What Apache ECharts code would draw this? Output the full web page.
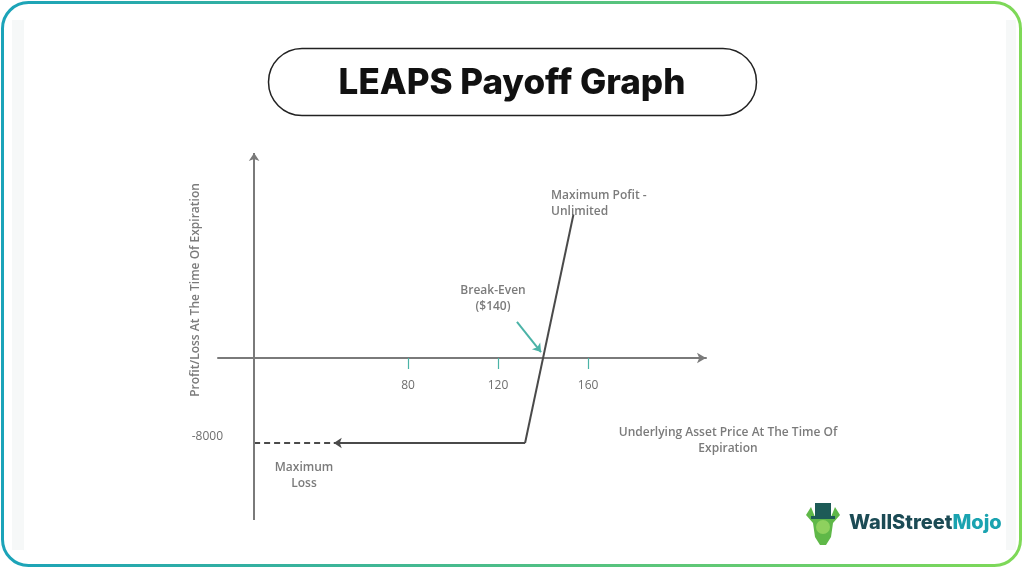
<!DOCTYPE html>
<html><head><meta charset="utf-8">
<script src="https://cdn.jsdelivr.net/npm/echarts@6/dist/echarts.min.js"></script>
<style>html,body{margin:0;padding:0;background:#fff}#c{width:1024px;height:569px}</style>
</head><body><div id="c"></div>
<script>
// ---- data ----
const xTickValues = [80, 120, 160];
const yTickValues = [-8000];
const yAxisAtX = 11.6;                       // where the vertical P/L axis crosses
const payoffRise = [[132, -8000], [153.5, 13500]];
const lossArrow = [[132, -8000], [47, -8000]];
const lossDashed = [[yAxisAtX, -8000], [47, -8000]];
const breakEvenArrow = [[128.4, 3390], [139.1, 560]];
const titleText = 'LEAPS Payoff Graph';
const xAxisTitle = 'Underlying Asset Price At The Time Of\nExpiration';
const yAxisTitle = 'Profit/Loss At The Time Of Expiration';
const noteMaxProfit = 'Maximum Pofit -\nUnlimited';
const noteBreakEven = 'Break-Even\n($140)';
const noteMaxLoss = 'Maximum\nLoss';

const chart = echarts.init(document.getElementById('c'));
const FONT = '"Open Sans", sans-serif';
const axisGray = '#7a7a7a';
const lineDark = '#4a4a4a';
const teal = '#4bb3a7';
const noteStyle = {fill: '#7b7b7b', font: '600 12px "Open Sans", sans-serif', align: 'center', verticalAlign: 'middle', lineHeight: 16};

const yMin = -15247, yMax = 19294, gridTop = 153, gridBottomPx = 520;
// pixel distance between grid bottom and the y = 0 line
const zeroOffset = (gridBottomPx - gridTop) * (0 - yMin) / (yMax - yMin);

chart.setOption({
  backgroundColor: '#ffffff',
  animation: false,
  title: {
    text: titleText, left: 'center', top: 61,
    textStyle: {fontFamily: 'Inter, sans-serif', fontWeight: 800, fontSize: 35, color: '#111'}
  },
  grid: {left: 218, right: 318, top: gridTop, bottom: 569 - gridBottomPx},
  xAxis: {
    type: 'value', min: -4.44, max: 212.4,
    offset: -zeroOffset,
    splitLine: {show: false},
    axisLine: {onZero: false, lineStyle: {color: axisGray, width: 2}, symbol: ['none', 'arrow'], symbolSize: [8, 9]},
    axisTick: {show: true, customValues: xTickValues, length: 11, lineStyle: {color: teal, width: 1.2}},
    axisLabel: {customValues: xTickValues, margin: 22, color: '#6e6e6e', fontFamily: FONT, fontSize: 12}
  },
  yAxis: {
    type: 'value', min: yMin, max: yMax,
    splitLine: {show: false},
    axisLine: {show: false},
    axisTick: {show: false},
    axisLabel: {customValues: yTickValues, margin: -5, color: '#6e6e6e', fontFamily: FONT, fontSize: 12,
      verticalAlign: 'bottom', formatter: v => String(v)}
  },
  series: [
    {
      type: 'line', data: payoffRise, symbol: 'none',
      lineStyle: {color: lineDark, width: 2}, z: 5,
      markLine: {
        silent: true, symbol: ['none', 'arrow'], symbolSize: 8, label: {show: false},
        lineStyle: {color: axisGray, width: 2, type: 'solid'},
        data: [{xAxis: yAxisAtX}]
      }
    },
    {
      type: 'line', data: lossArrow, symbol: 'none', lineStyle: {color: lineDark, width: 2, opacity: 0},
      markLine: {
        silent: true, symbol: ['none', 'arrow'], symbolSize: 8, label: {show: false},
        lineStyle: {color: lineDark, width: 2, type: 'solid'},
        data: [[{coord: lossArrow[0]}, {coord: lossArrow[1]}]]
      }
    },
    {
      type: 'line', data: lossDashed, symbol: 'none',
      lineStyle: {color: lineDark, width: 2, type: [6, 4]}
    },
    {
      type: 'line', data: breakEvenArrow, symbol: 'none', lineStyle: {opacity: 0},
      markLine: {
        silent: true, symbol: ['none', 'arrow'], symbolSize: 8, label: {show: false},
        lineStyle: {color: teal, width: 2, type: 'solid'},
        data: [[{coord: breakEvenArrow[0]}, {coord: breakEvenArrow[1]}]]
      }
    }
  ],
  graphic: [
    {type: 'rect', z: -10, shape: {x: 2.5, y: 2.5, width: 1018, height: 563, r: 26},
     style: {fill: '#fff', lineWidth: 3,
       stroke: new echarts.graphic.LinearGradient(0, 0, 1, 0, [{offset: 0, color: '#1ba3b9'}, {offset: 1, color: '#7fd957'}])}},
    {type: 'rect', z: -9, shape: {x: 12, y: 20, width: 12, height: 530}, style: {fill: '#f6f8f8'}},
    {type: 'rect', z: -9, shape: {x: 1006, y: 20, width: 10, height: 530}, style: {fill: '#f6f8f8'}},
    {type: 'rect', z: -5, shape: {x: 268.5, y: 48.5, width: 488, height: 67, r: 33.5},
     style: {fill: '#fff', stroke: '#222', lineWidth: 1.5}},
    {type: 'text', x: 196, y: 290, rotation: Math.PI / 2,
     style: {text: yAxisTitle, fill: '#7b7b7b', font: '600 12px "Open Sans", sans-serif', align: 'center', verticalAlign: 'middle'}},
    {type: 'text', x: 728, y: 441, style: Object.assign({}, noteStyle, {text: xAxisTitle})},
    {type: 'text', x: 551, y: 204, style: Object.assign({}, noteStyle, {text: noteMaxProfit, align: 'left'})},
    {type: 'text', x: 493, y: 299, style: Object.assign({}, noteStyle, {text: noteBreakEven})},
    {type: 'text', x: 304, y: 476, style: Object.assign({}, noteStyle, {text: noteMaxLoss})},
    // logo
    {type: 'group', x: 823, y: 525, children: [
      {type: 'polygon', shape: {points: [[-17,-10],[-12,-18],[-8,-8],[8,-8],[12,-18],[17,-10],[10,-2],[8,12],[3,20],[-3,20],[-8,12],[-10,-2]]}, style: {fill: '#5fb848'}},
      {type: 'rect', shape: {x: -8, y: -22, width: 16, height: 14}, style: {fill: '#1d5b57'}},
      {type: 'rect', shape: {x: -12, y: -9, width: 24, height: 3}, style: {fill: '#1d5b57'}},
      {type: 'circle', shape: {cx: 0, cy: 2, r: 7}, style: {fill: '#8ed15e'}}
    ]},
    {type: 'text', x: 849, y: 523,
     style: {text: '{a|WallStreet}{b|Mojo}', verticalAlign: 'middle', align: 'left',
       rich: {a: {fill: '#1c4b55', font: '800 20px Inter, sans-serif'}, b: {fill: '#1aa3b0', font: '800 20px Inter, sans-serif'}}}}
  ]
});
</script></body></html>
